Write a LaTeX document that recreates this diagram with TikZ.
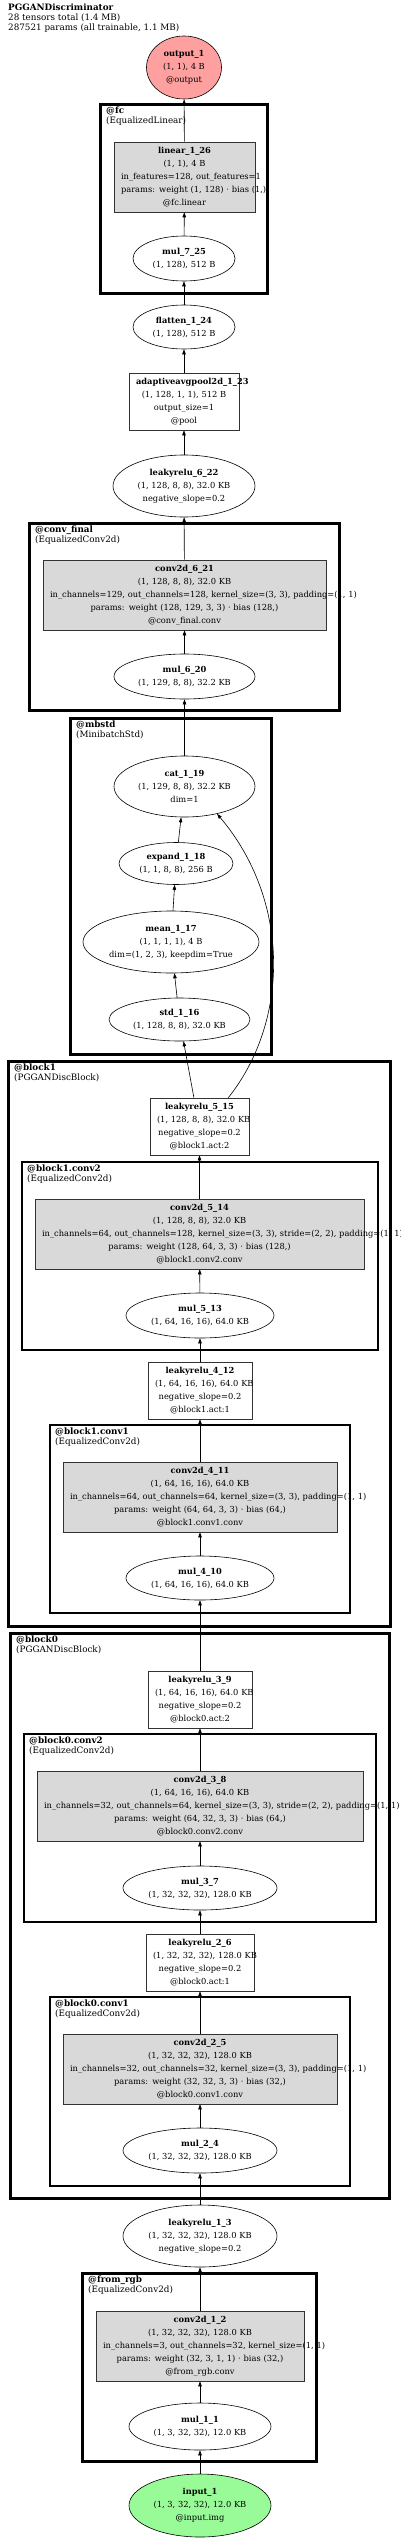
\documentclass[tikz,border=0pt]{standalone}
\usepackage{fontspec}
\setmainfont{DejaVu Serif}
\usetikzlibrary{shapes.geometric,arrows.meta}
\definecolor{outpink}{RGB}{255,160,160}
\definecolor{inpgreen}{RGB}{152,251,152}
\definecolor{layergray}{RGB}{217,217,217}

\begin{document}
\begin{tikzpicture}[
    x=1pt,y=-1pt,
    every node/.style={font=\fontsize{8.3}{13}\selectfont},
    tensor/.style={draw=black,line width=0.6pt,ellipse,inner sep=0pt,align=center},
    fnbox/.style={draw=black!80,line width=0.6pt,rectangle,inner xsep=7pt,inner ysep=0pt,align=center},
    layer/.style={fnbox,fill=layergray},
    cluster/.style={draw=black,line width=3pt},
    subcluster/.style={draw=black,line width=2pt},
    clabel/.style={anchor=north west,inner sep=0pt,align=left,font=\fontsize{8.8}{9.8}\selectfont},
    flow/.style={-{Triangle[length=5pt,width=3.5pt]},line width=0.6pt}
]
    \useasboundingbox (0,0) rectangle (400,2539);
    \node[anchor=north west,inner sep=0pt,align=left,font=\fontsize{8.8}{9.8}\selectfont] (title) at (8,4)
        {\textbf{PGGANDiscriminator}\\28 tensors total (1.4 MB)\\287521 params (all trainable, 1.1 MB)};

    % head
    \node[tensor,fill=outpink,minimum width=75pt,minimum height=63pt] (output1) at (184,67.5)
        {\textbf{output\_1}\\(1, 1), 4 B\\@output};
    \node[layer,text width=127pt,minimum height=70pt] (linear126) at (184.5,177)
        {\textbf{linear\_1\_26}\\\mbox{(1, 1), 4 B}\\\mbox{in\_features=128, out\_features=1}\\\mbox{params: weight (1, 128) · bias (1,)}\\@fc.linear};
    \node[tensor,minimum width=102pt,minimum height=45pt] (mul725) at (184,258.5)
        {\textbf{mul\_7\_25}\\(1, 128), 512 B};
    \node[tensor,minimum width=102pt,minimum height=44pt] (flatten124) at (184,327)
        {\textbf{flatten\_1\_24}\\(1, 128), 512 B};
    \node[fnbox,text width=96pt,minimum height=57pt] (pool123) at (184,401.5)
        {\textbf{adaptiveavgpool2d\_1\_23}\\\mbox{(1, 128, 1, 1), 512 B}\\output\_size=1\\@pool};
    \node[tensor,minimum width=142pt,minimum height=62pt] (lrelu622) at (184,486)
        {\textbf{leakyrelu\_6\_22}\\(1, 128, 8, 8), 32.0 KB\\negative\_slope=0.2};
    \node[layer,text width=269pt,minimum height=70pt] (conv621) at (184.5,595)
        {\textbf{conv2d\_6\_21}\\\mbox{(1, 128, 8, 8), 32.0 KB}\\\mbox{in\_channels=129, out\_channels=128, kernel\_size=(3, 3), padding=(1, 1)}\\\mbox{params: weight (128, 129, 3, 3) · bias (128,)}\\@conv\_final.conv};
    \node[tensor,minimum width=141pt,minimum height=45pt] (mul620) at (184.5,676.5)
        {\textbf{mul\_6\_20}\\(1, 129, 8, 8), 32.2 KB};

    % minibatch std
    \node[tensor,minimum width=141pt,minimum height=61pt] (cat119) at (184.5,786.5)
        {\textbf{cat\_1\_19}\\(1, 129, 8, 8), 32.2 KB\\dim=1};
    \node[tensor,minimum width=114pt,minimum height=42pt] (expand118) at (176,863.5)
        {\textbf{expand\_1\_18}\\(1, 1, 8, 8), 256 B};
    \node[tensor,minimum width=176pt,minimum height=62pt] (mean117) at (171,942)
        {\textbf{mean\_1\_17}\\(1, 1, 1, 1), 4 B\\dim=(1, 2, 3), keepdim=True};
    \node[tensor,minimum width=141pt,minimum height=43pt] (std116) at (179.5,1019.5)
        {\textbf{std\_1\_16}\\(1, 128, 8, 8), 32.0 KB};

    % block1
    \node[fnbox,text width=85pt,minimum height=57pt] (lrelu515) at (199.5,1126.5)
        {\textbf{leakyrelu\_5\_15}\\\mbox{(1, 128, 8, 8), 32.0 KB}\\\mbox{negative\_slope=0.2}\\@block1.act:2};
    \node[layer,text width=315pt,minimum height=70pt] (conv514) at (199.5,1234)
        {\textbf{conv2d\_5\_14}\\\mbox{(1, 128, 8, 8), 32.0 KB}\\\mbox{in\_channels=64, out\_channels=128, kernel\_size=(3, 3), stride=(2, 2), padding=(1, 1)}\\\mbox{params: weight (128, 64, 3, 3) · bias (128,)}\\@block1.conv2.conv};
    \node[tensor,minimum width=148pt,minimum height=45pt] (mul513) at (200,1315.5)
        {\textbf{mul\_5\_13}\\(1, 64, 16, 16), 64.0 KB};
    \node[fnbox,text width=90pt,minimum height=57pt] (lrelu412) at (200,1390.5)
        {\textbf{leakyrelu\_4\_12}\\\mbox{(1, 64, 16, 16), 64.0 KB}\\\mbox{negative\_slope=0.2}\\@block1.act:1};
    \node[layer,text width=260pt,minimum height=70pt] (conv411) at (200,1497)
        {\textbf{conv2d\_4\_11}\\\mbox{(1, 64, 16, 16), 64.0 KB}\\\mbox{in\_channels=64, out\_channels=64, kernel\_size=(3, 3), padding=(1, 1)}\\\mbox{params: weight (64, 64, 3, 3) · bias (64,)}\\@block1.conv1.conv};
    \node[tensor,minimum width=148pt,minimum height=44pt] (mul410) at (200,1578)
        {\textbf{mul\_4\_10}\\(1, 64, 16, 16), 64.0 KB};

    % block0
    \node[fnbox,text width=90pt,minimum height=57pt] (lrelu39) at (200,1699.5)
        {\textbf{leakyrelu\_3\_9}\\\mbox{(1, 64, 16, 16), 64.0 KB}\\\mbox{negative\_slope=0.2}\\@block0.act:2};
    \node[layer,text width=312pt,minimum height=70pt] (conv38) at (200,1806)
        {\textbf{conv2d\_3\_8}\\\mbox{(1, 64, 16, 16), 64.0 KB}\\\mbox{in\_channels=32, out\_channels=64, kernel\_size=(3, 3), stride=(2, 2), padding=(1, 1)}\\\mbox{params: weight (64, 32, 3, 3) · bias (64,)}\\@block0.conv2.conv};
    \node[tensor,minimum width=154pt,minimum height=44pt] (mul37) at (200,1888)
        {\textbf{mul\_3\_7}\\(1, 32, 32, 32), 128.0 KB};
    \node[fnbox,text width=94pt,minimum height=57pt] (lrelu26) at (200,1962.5)
        {\textbf{leakyrelu\_2\_6}\\\mbox{(1, 32, 32, 32), 128.0 KB}\\\mbox{negative\_slope=0.2}\\@block0.act:1};
    \node[layer,text width=260pt,minimum height=70pt] (conv25) at (200,2069)
        {\textbf{conv2d\_2\_5}\\\mbox{(1, 32, 32, 32), 128.0 KB}\\\mbox{in\_channels=32, out\_channels=32, kernel\_size=(3, 3), padding=(1, 1)}\\\mbox{params: weight (32, 32, 3, 3) · bias (32,)}\\@block0.conv1.conv};
    \node[tensor,minimum width=154pt,minimum height=45pt] (mul24) at (200,2150.5)
        {\textbf{mul\_2\_4}\\(1, 32, 32, 32), 128.0 KB};

    % stem
    \node[tensor,minimum width=154pt,minimum height=62pt] (lrelu13) at (200,2236)
        {\textbf{leakyrelu\_1\_3}\\(1, 32, 32, 32), 128.0 KB\\negative\_slope=0.2};
    \node[layer,text width=194pt,minimum height=70pt] (conv12) at (200,2346)
        {\textbf{conv2d\_1\_2}\\\mbox{(1, 32, 32, 32), 128.0 KB}\\\mbox{in\_channels=3, out\_channels=32, kernel\_size=(1, 1)}\\\mbox{params: weight (32, 3, 1, 1) · bias (32,)}\\@from\_rgb.conv};
    \node[tensor,minimum width=142pt,minimum height=47pt] (mul11) at (200,2426.5)
        {\textbf{mul\_1\_1}\\(1, 3, 32, 32), 12.0 KB};
    \node[tensor,fill=inpgreen,minimum width=142pt,minimum height=63pt] (input1) at (200,2505.5)
        {\textbf{input\_1}\\(1, 3, 32, 32), 12.0 KB\\@input.img};

    % module boxes
    \draw[cluster] (100.5,104.5) rectangle (267.5,293.5);
    \node[clabel] (fclbl) at (106,107) {\textbf{@fc}\\(EqualizedLinear)};
    \draw[cluster] (29.5,523.5) rectangle (339.5,710.5);
    \node[clabel] (convfinallbl) at (35,526) {\textbf{@conv\_final}\\(EqualizedConv2d)};
    \draw[cluster] (70.5,718.5) rectangle (271.5,1054.5);
    \node[clabel] (mbstdlbl) at (76,721) {\textbf{@mbstd}\\(MinibatchStd)};
    \draw[cluster] (8.5,1061.5) rectangle (390.5,1626.5);
    \node[clabel] (blockonelbl) at (14,1064) {\textbf{@block1}\\(PGGANDiscBlock)};
    \draw[subcluster] (22,1162) rectangle (378,1350);
    \node[clabel] (blockoneconvtwolbl) at (27,1164.5) {\textbf{@block1.conv2}\\(EqualizedConv2d)};
    \draw[subcluster] (50,1425) rectangle (350,1613);
    \node[clabel] (blockoneconvonelbl) at (55,1427.5) {\textbf{@block1.conv1}\\(EqualizedConv2d)};
    \draw[cluster] (10.5,1633.5) rectangle (389.5,2198.5);
    \node[clabel] (blockzerolbl) at (16,1636) {\textbf{@block0}\\(PGGANDiscBlock)};
    \draw[subcluster] (24,1734) rectangle (376,1922);
    \node[clabel] (blockzeroconvtwolbl) at (29,1736.5) {\textbf{@block0.conv2}\\(EqualizedConv2d)};
    \draw[subcluster] (50,1997) rectangle (350,2186);
    \node[clabel] (blockzeroconvonelbl) at (55,1999.5) {\textbf{@block0.conv1}\\(EqualizedConv2d)};
    \draw[cluster] (82.5,2273.5) rectangle (316.5,2461.5);
    \node[clabel] (fromrgblbl) at (88,2276) {\textbf{@from\_rgb}\\(EqualizedConv2d)};

    % data flow, bottom to top
    \foreach \a/\b in {input1/mul11,mul11/conv12,conv12/lrelu13,lrelu13/mul24,mul24/conv25,
        conv25/lrelu26,lrelu26/mul37,mul37/conv38,conv38/lrelu39,lrelu39/mul410,mul410/conv411,
        conv411/lrelu412,lrelu412/mul513,mul513/conv514,conv514/lrelu515,
        std116/mean117,mean117/expand118,expand118/cat119,cat119/mul620,mul620/conv621,
        conv621/lrelu622,lrelu622/pool123,pool123/flatten124,flatten124/mul725,mul725/linear126,
        linear126/output1}
        \draw[flow] (\a) -- (\b);
    \draw[flow] (lrelu515.101) -- (std116);
    \draw[flow] (lrelu515.45) .. controls (290,1020) and (290,900) .. (cat119.-40);
\end{tikzpicture}
\end{document}
